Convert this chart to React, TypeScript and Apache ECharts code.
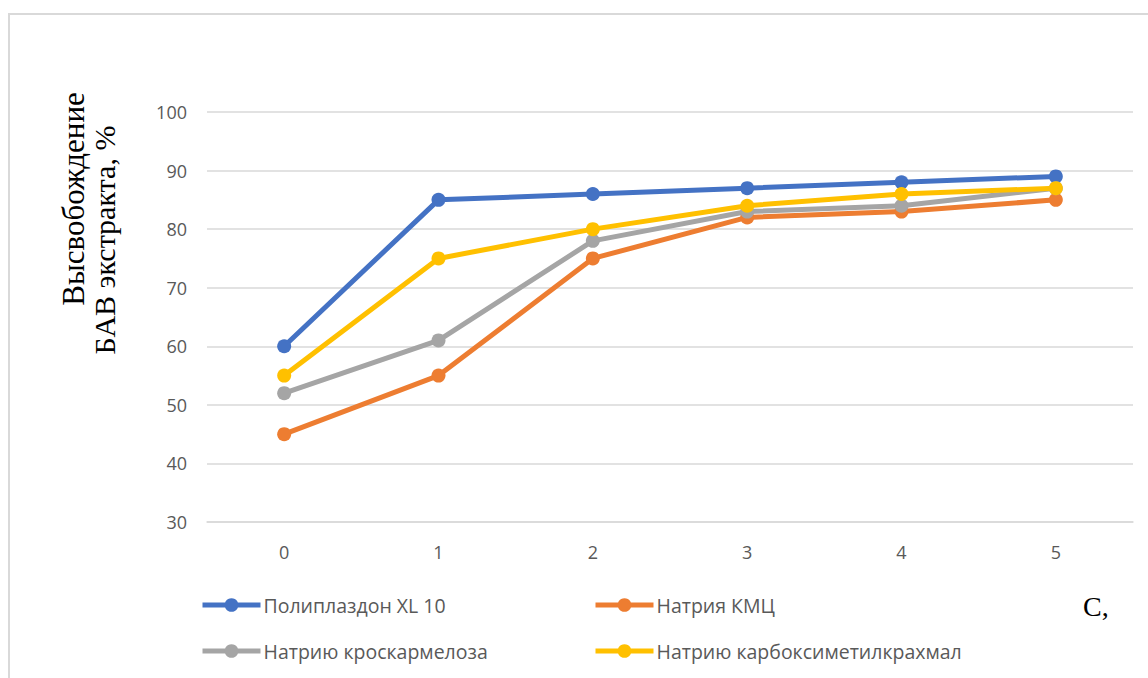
import React, { useEffect, useRef } from "react";
import * as echarts from "echarts";

const categories = ["0", "1", "2", "3", "4", "5"];
const seriesNames = [
  "Полиплаздон XL 10",
  "Натрия КМЦ",
  "Натрию кроскармелоза",
  "Натрию карбоксиметилкрахмал",
];
const polyplasdone = [60, 85, 86, 87, 88, 89];
const cmcSodium = [45, 55, 75, 82, 83, 85];
const croscarmellose = [52, 61, 78, 83, 84, 87];
const starchGlycolate = [55, 75, 80, 84, 86, 87];
const colors = ["#4472C4", "#ED7D31", "#A5A5A5", "#FFC000"];
const yTitle1 = "Высвобождение";
const yTitle2 = "БАВ экстракта, %";
const xTitle = "С,";

export default function App() {
  const ref = useRef<HTMLDivElement>(null);
  useEffect(() => {
    if (!ref.current) return;
    const chart = echarts.init(ref.current, null, { renderer: "svg" });
    const values = [polyplasdone, cmcSodium, croscarmellose, starchGlycolate];
    const legendPos = [
      { left: 200, top: 595 },
      { left: 593, top: 595 },
      { left: 200, top: 641 },
      { left: 593, top: 641 },
    ];
    chart.setOption({
      animation: false,
      color: colors,
      grid: { left: 207, right: 15, top: 112, bottom: 156 },
      legend: seriesNames.map((n, i) => ({
        data: [n],
        left: legendPos[i].left,
        top: legendPos[i].top,
        padding: 0,
        itemWidth: 58,
        itemHeight: 17,
        lineStyle: { width: 5 },
        textStyle: {
          color: "#595959",
          fontSize: 19.5,
          padding: [0, 0, 0, -2],
          fontFamily: "'Open Sans', sans-serif",
        },
      })),
      xAxis: {
        type: "category",
        data: categories,
        boundaryGap: true,
        axisLine: { show: true, lineStyle: { color: "#d9d9d9", width: 1.5 } },
        axisTick: { show: false },
        axisLabel: {
          color: "#595959",
          fontSize: 18,
          margin: 21,
          fontFamily: "'Open Sans', sans-serif",
        },
      },
      yAxis: {
        type: "value",
        min: 30,
        max: 100,
        interval: 10,
        axisLine: { show: false },
        axisTick: { show: false },
        axisLabel: {
          color: "#595959",
          fontSize: 18,
          margin: 20,
          fontFamily: "'Open Sans', sans-serif",
        },
        splitLine: { lineStyle: { color: "#d9d9d9", width: 1.5 } },
      },
      series: seriesNames.map((n, i) => ({
        name: n,
        type: "line",
        data: values[i],
        symbol: "circle",
        symbolSize: 14,
        lineStyle: { width: 5, color: colors[i] },
        itemStyle: { color: colors[i] },
      })),
      graphic: [
        {
          type: "rect",
          shape: { x: 9, y: 14, width: 1300, height: 800 },
          style: { fill: "none", stroke: "#d9d9d9", lineWidth: 2 },
          silent: true,
        },
        {
          type: "text",
          x: 73,
          y: 199,
          rotation: Math.PI / 2,
          style: {
            text: yTitle1,
            fontSize: 31,
            fontFamily: "'Liberation Serif', 'DejaVu Serif', serif",
            fill: "#000",
            align: "center",
            verticalAlign: "middle",
          },
        },
        {
          type: "text",
          x: 104,
          y: 240,
          rotation: Math.PI / 2,
          style: {
            text: yTitle2,
            fontSize: 30,
            fontFamily: "'Liberation Serif', 'DejaVu Serif', serif",
            fill: "#000",
            align: "center",
            verticalAlign: "middle",
          },
        },
        {
          type: "text",
          x: 1083,
          y: 606,
          style: {
            text: xTitle,
            fontSize: 28,
            fontFamily: "'Liberation Serif', 'DejaVu Serif', serif",
            fill: "#000",
            align: "left",
            verticalAlign: "middle",
          },
        },
      ],
    });
    return () => chart.dispose();
  }, []);
  return (
    <div
      ref={ref}
      style={{ position: "fixed", left: 0, top: 0, width: 1148, height: 678, background: "#fff" }}
    />
  );
}
